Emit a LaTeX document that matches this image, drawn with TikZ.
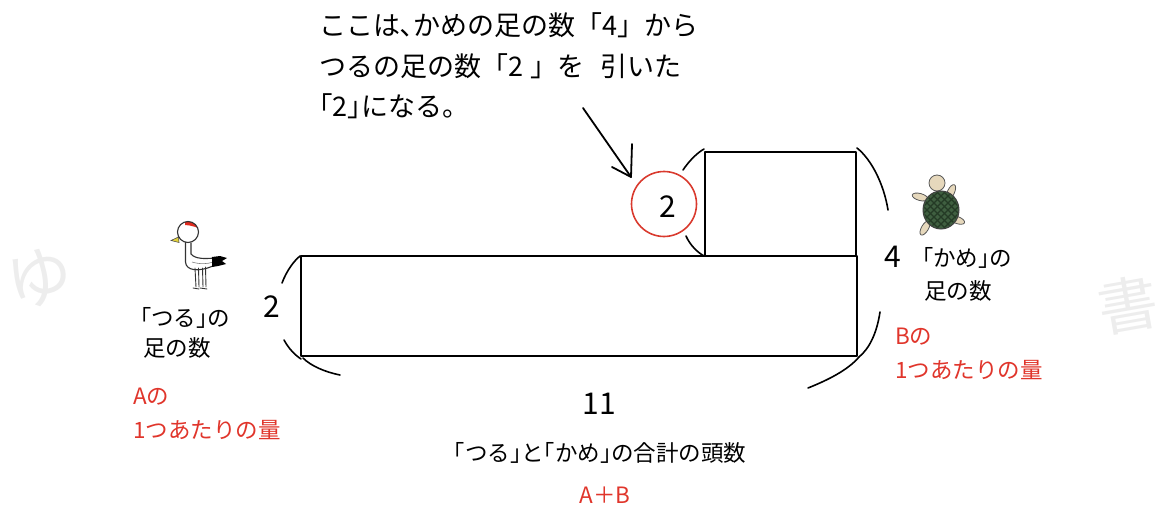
\documentclass[tikz,border=0pt]{standalone}
\usepackage{fontspec}
\setmainfont{Noto Sans CJK JP}
\definecolor{redtxt}{HTML}{E0352B}
\definecolor{circred}{HTML}{D93A2E}
\definecolor{beak}{HTML}{E3D23A}
\definecolor{capred}{HTML}{E02A1E}
\definecolor{shell}{HTML}{3F5F40}
\definecolor{shelldark}{HTML}{243A25}
\definecolor{skin}{HTML}{E6D8BC}
\definecolor{wm}{HTML}{EDEDED}
\begin{document}
\begin{tikzpicture}[x=1pt,y=-1pt,
  box/.style={line width=2.6pt, line cap=round, line join=round},
  bracearc/.style={line width=1.6pt, line cap=round},
  pen/.style={line width=1.8pt, line cap=round, line join=round},
  lbl/.style={inner sep=0pt, font=\fontsize{22.5}{26}\selectfont},
  redlbl/.style={lbl, text=redtxt},
  note/.style={inner sep=0pt, anchor=west, font=\fontsize{27}{30}\selectfont},
  digit/.style={inner sep=0pt, font=\fontsize{30}{32}\selectfont},
  crane/.style={draw=black!80, line width=1.1pt, line cap=round, line join=round},
  flipper/.style={fill=skin, draw=black!65, line width=0.8pt}]
\useasboundingbox (0,0) rectangle (1161,508);

% faint stamps at the edges
\node[text=wm, inner sep=0pt, font=\fontsize{66}{66}\selectfont, rotate=12] (wmL) at (40,278) {ゆ};
\node[text=wm, inner sep=0pt, font=\fontsize{60}{60}\selectfont, rotate=10] (wmR) at (1128,305) {書};

% explanatory note with its arrow
\node[note] (n1) at (319,25) {ここは､かめの足の数「4」から};
\node[note] (n2) at (319,66) {つるの足の数「2\hspace{7pt}」を\hspace{16pt}引いた};
\node[note] (n3) at (319,106) {｢2｣になる。};

\coordinate (arS) at (583,108);
\coordinate (arT) at (631,177);
\coordinate (arL) at (612,167);
\coordinate (arU) at (632,144);
\draw[pen] (arS) -- (arT);
\draw[pen] (arL) -- (arT) -- (arU);

% area diagram
\coordinate (mTL) at (301,256);
\coordinate (mBR) at (857,356);
\coordinate (uTL) at (705,152);
\coordinate (uBR) at (856,256);
\draw[box] (mTL) rectangle (mBR);
\draw[box] (uTL) rectangle (uBR);

% brackets around the sides
\draw[bracearc] (282,283) .. controls (287,270) and (294,261) .. (300,256);
\draw[bracearc] (284,340) .. controls (289,349) and (295,355) .. (301,359);
\draw[bracearc] (303,358) .. controls (311,366) and (325,372) .. (340,375);
\draw[bracearc] (808,388) .. controls (828,380) and (848,370) .. (859,357);
\draw[bracearc] (857,148) .. controls (872,160) and (884,185) .. (888,210);
\draw[bracearc] (880,312) .. controls (877,332) and (870,348) .. (859,357);
\draw[bracearc] (683,170) .. controls (689,161) and (697,153) .. (704,149);
\draw[bracearc] (686,236) .. controls (690,245) and (697,252) .. (704,256);

% difference marker
\node[draw=circred, line width=1.6pt, circle, minimum size=65pt, inner sep=0pt] (c2) at (664,204) {};
\node[digit] (d2) at (668,207) {2};

% numbers and labels
\node[digit] (dl) at (272,307) {2};
\node[lbl] (tsuru1) at (185,318) {｢つる｣の};
\node[lbl] (tsuru2) at (177,348) {足の数};
\node[redlbl, anchor=west] (a1) at (133,397) {Aの};
\node[redlbl, anchor=west] (a2) at (133,430) {1つあたりの量};

\node[digit] (dr) at (893,257) {4};
\node[lbl] (kame1) at (967,258) {｢かめ｣の};
\node[lbl] (kame2) at (958,291) {足の数};
\node[redlbl, anchor=west] (b1) at (895,337) {Bの};
\node[redlbl, anchor=west] (b2) at (895,370) {1つあたりの量};

\node[digit] (d11) at (599,404) {11};
\node[lbl] (total) at (600,453) {｢つる｣と｢かめ｣の合計の頭数};
\node[redlbl] (apb) at (605,495) {A＋B};

% crane
\draw[crane] (185.5,242) -- (185.5,262) .. controls (186,271) and (199,272) .. (213,266);
\draw[crane] (191,243) -- (191,254) .. controls (195,259) and (205,259) .. (214,258);
\draw[gray, line width=0.6pt] (192,262) .. controls (200,264.5) and (208,264) .. (213,262);
\fill[black] (212,257) -- (220,256) -- (227,258) -- (222,261) -- (226,264) -- (218,266) -- (212,267) -- cycle;
\draw[crane, line width=0.9pt] (195,268) -- (196,287) (198.5,268) -- (199,287)
  (202.5,268) -- (203,287) (205.5,267) -- (206,287);
\draw[crane, line width=0.9pt] (193,288) -- (199,289) (200,288) -- (207,289);
\filldraw[fill=beak, draw=black!70, line width=0.6pt] (178.5,237) -- (171,240.5) -- (179,242.5) -- cycle;
\fill[white] (188,232) circle (10.5);
\begin{scope}
  \clip (188,232) circle (10.5);
  \fill[capred] (185,218) -- (205,218) -- (205,230) .. controls (198,228) and (191,225) .. (185,225) -- cycle;
\end{scope}
\draw[crane] (188,232) circle (10.5);

% turtle
\filldraw[flipper, rotate around={-15:(920,197)}] (920,197) ellipse [x radius=8, y radius=3.5];
\filldraw[flipper, rotate around={65:(951,192)}] (951,192) ellipse [x radius=8, y radius=3.5];
\filldraw[flipper, rotate around={60:(925,228)}] (925,228) ellipse [x radius=8, y radius=3.5];
\filldraw[flipper, rotate around={-20:(957,220)}] (957,220) ellipse [x radius=8, y radius=3.5];
\filldraw[flipper] (937,183) circle (8);
\fill[shell] (941,210) ellipse [x radius=18, y radius=19];
\begin{scope}
  \clip (941,210) ellipse [x radius=17, y radius=18];
  \foreach \i in {-42,-35,...,42} {
    \draw[shelldark, line width=1.3pt] ({941+\i-20},190) -- ({941+\i+20},230);
    \draw[shelldark, line width=1.3pt] ({941+\i+20},190) -- ({941+\i-20},230);
  }
\end{scope}
\draw[black!75, line width=1pt] (941,210) ellipse [x radius=18, y radius=19];
\end{tikzpicture}
\end{document}
